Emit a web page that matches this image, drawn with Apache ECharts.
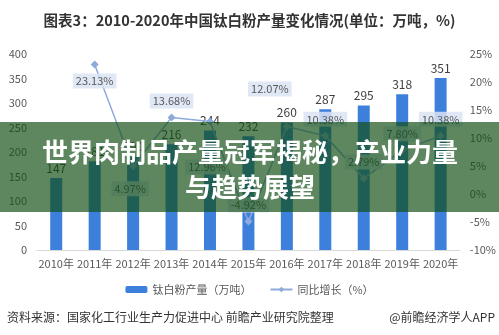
<!DOCTYPE html>
<html>
<head>
<meta charset="utf-8">
<script src="https://cdn.jsdelivr.net/npm/echarts@6/dist/echarts.min.js"></script>
<style>
  html, body { margin: 0; padding: 0; background: #fff; }
  #chart { width: 499px; height: 335px; }
</style>
</head>
<body>
<div id="chart"></div>
<script>
// 2010-2020 China titanium dioxide output and year-on-year growth
const years = ['2010年', '2011年', '2012年', '2013年', '2014年', '2015年', '2016年', '2017年', '2018年', '2019年', '2020年'];
const output = [147, 181, 190, 216, 244, 232, 260, 287, 295, 318, 351];
const growth = [null, 23.13, 4.97, 13.68, 12.96, -4.92, 12.07, 10.38, 2.79, 7.80, 10.38];
const leftTicks = { min: 0, max: 400, step: 50 };
const rightTicks = { min: -10, max: 25, step: 5 };

// per-point label placement for the growth line
const growthLabelPos = [null, ['bottom', [0, 0]], ['bottom', [-3, 6]], ['top', [0, 0]], ['bottom', [-3, 29]],
  ['top', [0, 0]], ['top', [-17, -21]], ['top', [0, 0]], ['top', [0, 0]], ['top', [0, 0]], ['top', [0, 0]]];

const FONT = '"Noto Sans CJK SC", "Microsoft YaHei", sans-serif';
const chart = echarts.init(document.getElementById('chart'), null, { renderer: 'canvas' });

const growthData = growth.map((v, i) => {
  if (v === null) return null;
  const p = growthLabelPos[i];
  return { value: v, label: { position: p[0], offset: p[1] } };
});

chart.setOption({
  animation: false,
  textStyle: { fontFamily: FONT },
  title: {
    text: '图表3：2010-2020年中国钛白粉产量变化情况(单位：万吨，%)',
    left: 'center', top: 8,
    textStyle: { fontSize: 14.5, fontWeight: 'bold', color: '#333', fontFamily: FONT }
  },
  legend: {
    left: 'center', top: 279,
    itemWidth: 22, itemHeight: 7, itemGap: 18,
    textStyle: { fontSize: 11, color: '#595959', fontFamily: FONT },
    data: ['钛白粉产量（万吨）', '同比增长（%）']
  },
  grid: { left: 37, right: 38, top: 54, bottom: 85 },
  xAxis: {
    type: 'category', data: years,
    axisLine: { lineStyle: { color: '#d9d9d9', width: 1 } },
    axisTick: { show: false },
    axisLabel: { color: '#595959', fontSize: 11, margin: 8, interval: 0 }
  },
  yAxis: [{
    type: 'value', min: leftTicks.min, max: leftTicks.max, interval: leftTicks.step,
    splitLine: { show: false }, axisLine: { show: false }, axisTick: { show: false },
    axisLabel: { color: '#595959', fontSize: 11, margin: 10 }
  }, {
    type: 'value', min: rightTicks.min, max: rightTicks.max, interval: rightTicks.step,
    splitLine: { show: false }, axisLine: { show: false }, axisTick: { show: false },
    axisLabel: { color: '#595959', fontSize: 11, margin: 10, formatter: '{value}%' }
  }],
  series: [{
    name: '钛白粉产量（万吨）', type: 'bar', data: output, barWidth: 12,
    itemStyle: { color: '#3d80dc' },
    label: { show: true, position: 'top', distance: 4, color: '#404040', fontSize: 12 }
  }, {
    name: '同比增长（%）', type: 'line', yAxisIndex: 1, data: growthData,
    connectNulls: false,
    lineStyle: { color: '#8eaadb', width: 1.5 },
    itemStyle: { color: '#8eaadb' },
    symbol: 'diamond', symbolSize: 8,
    label: {
      show: true, color: '#595959', fontSize: 11, distance: 5,
      backgroundColor: 'rgba(218,227,243,0.85)', padding: [2, 3],
      formatter: p => p.value.toFixed(2) + '%'
    },
    z: 3
  }],
  graphic: [
    { type: 'rect', left: 0, top: 122, z: 100,
      shape: { width: 499, height: 90 },
      style: { fill: 'rgba(18,78,21,0.68)' } },
    { type: 'text', x: 250, y: 152, z: 101,
      style: { text: '世界肉制品产量冠军揭秘，产业力量', fill: '#fff', font: 'bold 26px ' + FONT,
               textAlign: 'center', textVerticalAlign: 'middle' } },
    { type: 'text', x: 250, y: 187, z: 101,
      style: { text: '与趋势展望', fill: '#fff', font: 'bold 26px ' + FONT,
               textAlign: 'center', textVerticalAlign: 'middle' } },
    { type: 'text', x: 7, y: 317, z: 101,
      style: { text: '资料来源：国家化工行业生产力促进中心 前瞻产业研究院整理', fill: '#333', font: '12px ' + FONT,
               textAlign: 'left', textVerticalAlign: 'middle' } },
    { type: 'text', x: 495, y: 317, z: 101,
      style: { text: '@前瞻经济学人APP', fill: '#333', font: '12px ' + FONT,
               textAlign: 'right', textVerticalAlign: 'middle' } }
  ]
});
</script>
</body>
</html>
